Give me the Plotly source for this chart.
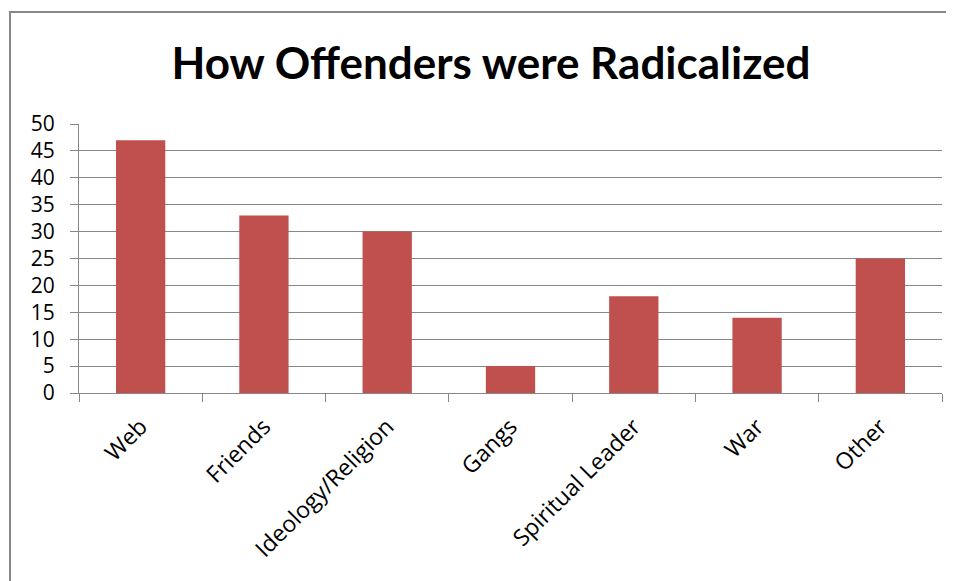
import plotly.graph_objects as go

categories = ["Web", "Friends", "Ideology/Religion", "Gangs", "Spiritual Leader", "War", "Other"]
values = [47, 33, 30, 5, 18, 14, 25]
y_ticks = [0, 5, 10, 15, 20, 25, 30, 35, 40, 45, 50]

GRAY = "#878787"
OFF = 8  # page body margin

L, R, T, B = 79 - OFF, 954 - (942 - OFF), 124 - OFF, 581 - (393 - OFF)
PW = 954 - L - R
PH = 581 - T - B

fig = go.Figure(go.Bar(x=categories, y=values, marker=dict(color="#C0504D", line=dict(width=0)),
                       hoverinfo="x+y"))

fig.update_layout(
    width=954, height=581,
    margin=dict(l=L, r=R, t=T, b=B),
    paper_bgcolor="white", plot_bgcolor="white",
    bargap=0.6,
    showlegend=False,
    title=dict(text="<b>How Offenders were Radicalized</b>", x=(491 - OFF) / 954, xanchor="center",
               xref="container", y=1 - (64 - OFF) / 581, yanchor="middle", yref="container",
               font=dict(family="Lato", size=44, color="#000000")),
    font=dict(family="Open Sans", color="#000000"),
    xaxis=dict(showgrid=False, showline=True, linecolor=GRAY, linewidth=1,
               ticks="outside", ticklen=8, tickcolor=GRAY, tickson="boundaries",
               tickangle=-45, ticklabelstandoff=10,
               tickfont=dict(family="Open Sans", size=23, color="#000000")),
    yaxis=dict(range=[0, 50], tickvals=y_ticks, showgrid=True, gridcolor=GRAY, gridwidth=1,
               showline=True, linecolor=GRAY, linewidth=1, ticks="outside", ticklen=8,
               tickcolor=GRAY, zeroline=False, ticklabelstandoff=11,
               tickfont=dict(family="Open Sans", size=21, color="#000000")),
    shapes=[dict(type="rect", xref="paper", yref="paper",
                 x0=(10 - 79) / PW, x1=1.2, y0=-1.0, y1=(393 - 12) / PH,
                 line=dict(color=GRAY, width=2), fillcolor="rgba(0,0,0,0)", layer="below")],
)

fig.write_html("out.html")
